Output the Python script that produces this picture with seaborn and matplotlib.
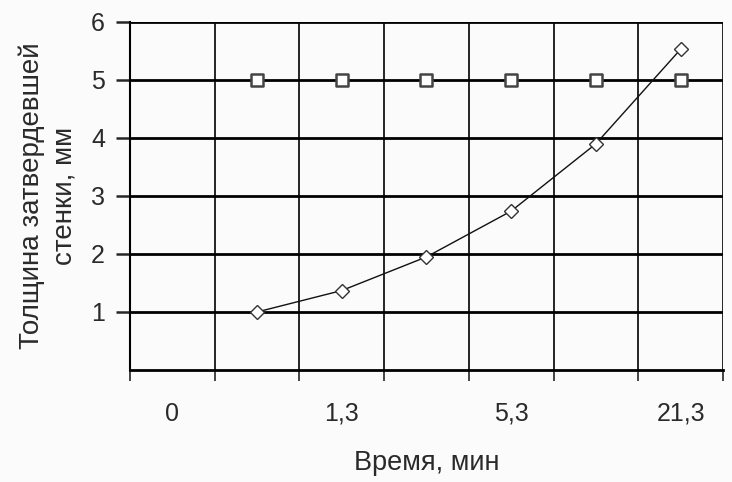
import numpy as np
import pandas as pd
import matplotlib
matplotlib.use("Agg")
import matplotlib.pyplot as plt
import seaborn as sns

# data (category index 0..6, first category has no points)
category_idx = [0, 1, 2, 3, 4, 5, 6]
time_labels = ["0", "1,3", "5,3", "21,3"]      # shown on every second category
label_idx = [0, 2, 4, 6]
thickness = [np.nan, 1.0, 1.37, 1.95, 2.74, 3.9, 5.53]
required = [np.nan, 5, 5, 5, 5, 5, 5]

df = pd.DataFrame({"cat": category_idx, "thickness": thickness, "required": required})

sns.set_style("white")
plt.rcParams["font.family"] = ["Liberation Sans", "DejaVu Sans"]
text_color = "#2a2a2a"

fig = plt.figure(figsize=(7.32, 4.82), dpi=100, facecolor="#fbfbfb")
ax = fig.add_axes([0.1776, 0.2324, 0.9877 - 0.1776, 0.9544 - 0.2324])
ax.set_facecolor("#fbfbfb")

sns.lineplot(data=df, x="cat", y="thickness", ax=ax, color="#111111", lw=1.0,
             marker="D", markersize=7, markerfacecolor="white",
             markeredgecolor="#333333", markeredgewidth=1.0)
sns.scatterplot(data=df, x="cat", y="required", ax=ax, marker="s", s=65,
                facecolor="white", edgecolor="#444444", linewidth=1.8, zorder=5)

ax.set_xlim(-0.5, 6.5)
ax.set_ylim(0, 6)

# horizontal gridlines (thick) and vertical category separators (thin)
ax.set_yticks([1, 2, 3, 4, 5, 6])
ax.yaxis.grid(True, color="black", lw=2.0)
ax.set_xticks(label_idx)
ax.set_xticklabels(time_labels)
ax.set_xticks(np.arange(-0.5, 7, 1.0), minor=True)
ax.xaxis.grid(True, which="minor", color="black", lw=1.2)
ax.xaxis.grid(False, which="major")

for side in ["top", "right"]:
    ax.spines[side].set_visible(False)
ax.spines["left"].set_linewidth(1.5)
ax.spines["bottom"].set_linewidth(2.0)
ax.spines["left"].set_color("black")
ax.spines["bottom"].set_color("black")

ax.tick_params(axis="y", which="major", direction="out", length=10, width=1.8,
               pad=8, labelsize=18, labelcolor=text_color, left=True)
ax.tick_params(axis="x", which="major", length=0, pad=23, labelsize=18,
               labelcolor=text_color)
ax.tick_params(axis="x", which="minor", direction="out", length=8, width=1.2,
               bottom=True)

ax.set_xlabel("Время, мин", fontsize=19.5, color=text_color, labelpad=17)
ax.set_ylabel("Толщина затвердевшей\nстенки, мм", fontsize=20, color=text_color,
              labelpad=10, linespacing=1.3)

fig.savefig("out.png", dpi=100, facecolor=fig.get_facecolor())
